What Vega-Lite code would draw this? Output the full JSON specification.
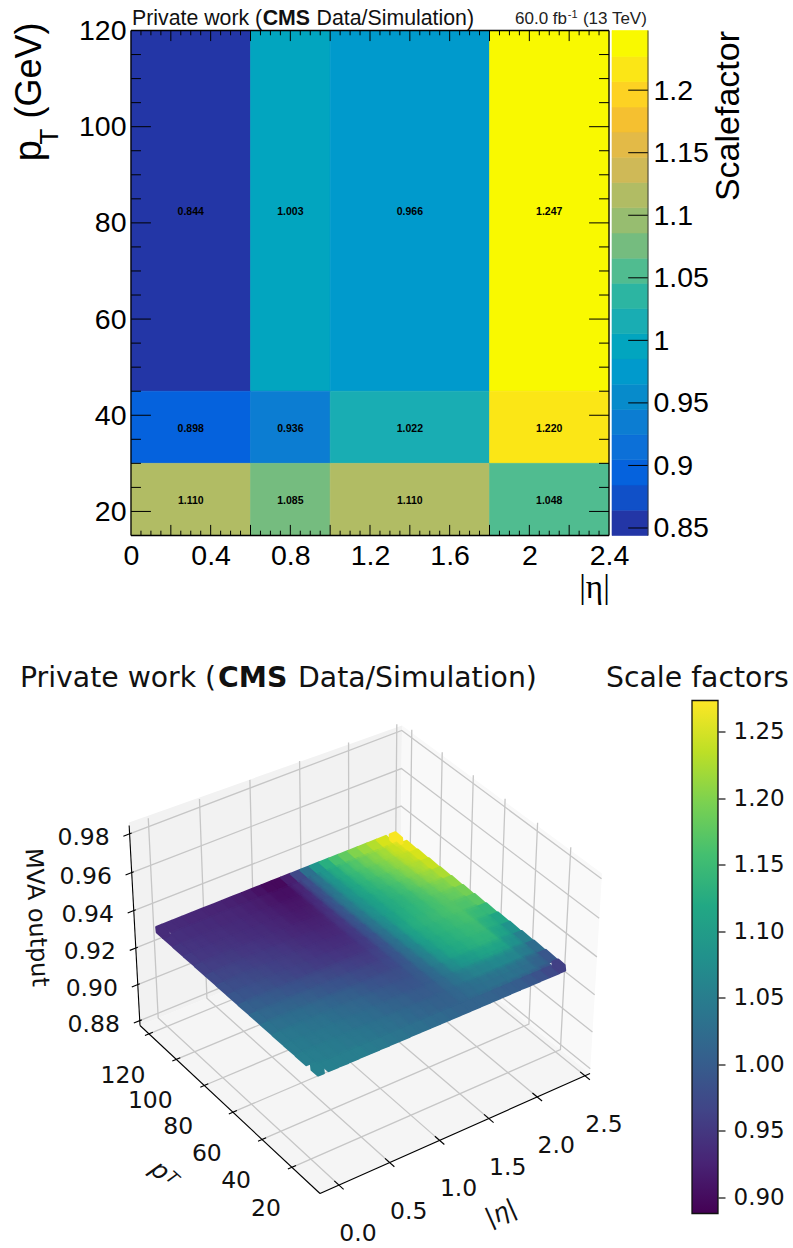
{"$schema":"https://vega.github.io/schema/vega-lite/v6.json","background":"white","padding":{"left":10,"top":7.5,"right":0,"bottom":0},"bounds":"flush","spacing":670,
"config":{"view":{"stroke":null},"axis":{"grid":false}},
"datasets":{
"cells":[{"eL":0,"eH":0.6,"pL":45,"pH":120,"eC":0.3,"pC":82.5,"sf":0.844},{"eL":0.6,"eH":1,"pL":45,"pH":120,"eC":0.8,"pC":82.5,"sf":1.003},{"eL":1,"eH":1.8,"pL":45,"pH":120,"eC":1.4,"pC":82.5,"sf":0.966},{"eL":1.8,"eH":2.4,"pL":45,"pH":120,"eC":2.1,"pC":82.5,"sf":1.247},{"eL":0,"eH":0.6,"pL":30,"pH":45,"eC":0.3,"pC":37.5,"sf":0.898},{"eL":0.6,"eH":1,"pL":30,"pH":45,"eC":0.8,"pC":37.5,"sf":0.936},{"eL":1,"eH":1.8,"pL":30,"pH":45,"eC":1.4,"pC":37.5,"sf":1.022},{"eL":1.8,"eH":2.4,"pL":30,"pH":45,"eC":2.1,"pC":37.5,"sf":1.22},{"eL":0,"eH":0.6,"pL":15,"pH":30,"eC":0.3,"pC":22.5,"sf":1.11},{"eL":0.6,"eH":1,"pL":15,"pH":30,"eC":0.8,"pC":22.5,"sf":1.085},{"eL":1,"eH":1.8,"pL":15,"pH":30,"eC":1.4,"pC":22.5,"sf":1.11},{"eL":1.8,"eH":2.4,"pL":15,"pH":30,"eC":2.1,"pC":22.5,"sf":1.048}],
"etaMinor":[{"t":0.05},{"t":0.1},{"t":0.15},{"t":0.25},{"t":0.3},{"t":0.35},{"t":0.45},{"t":0.5},{"t":0.55},{"t":0.65},{"t":0.7},{"t":0.75},{"t":0.85},{"t":0.9},{"t":0.95},{"t":1.05},{"t":1.1},{"t":1.15},{"t":1.25},{"t":1.3},{"t":1.35},{"t":1.45},{"t":1.5},{"t":1.55},{"t":1.65},{"t":1.7},{"t":1.75},{"t":1.85},{"t":1.9},{"t":1.95},{"t":2.05},{"t":2.1},{"t":2.15},{"t":2.25},{"t":2.3},{"t":2.35}],
"etaMajor":[{"t":0.2},{"t":0.4},{"t":0.6},{"t":0.8},{"t":1},{"t":1.2},{"t":1.4},{"t":1.6},{"t":1.8},{"t":2},{"t":2.2}],
"ptMinor":[{"t":25},{"t":30},{"t":35},{"t":45},{"t":50},{"t":55},{"t":65},{"t":70},{"t":75},{"t":85},{"t":90},{"t":95},{"t":105},{"t":110},{"t":115}],
"ptMajor":[{"t":20},{"t":40},{"t":60},{"t":80},{"t":100}],
"bins":[{"lo":0.844,"hi":0.8642,"m":0.854},{"lo":0.8642,"hi":0.8843,"m":0.874},{"lo":0.8843,"hi":0.9045,"m":0.894},{"lo":0.9045,"hi":0.9247,"m":0.915},{"lo":0.9247,"hi":0.9448,"m":0.935},{"lo":0.9448,"hi":0.965,"m":0.955},{"lo":0.965,"hi":0.9851,"m":0.975},{"lo":0.9851,"hi":1.0053,"m":0.995},{"lo":1.0053,"hi":1.0254,"m":1.015},{"lo":1.0254,"hi":1.0456,"m":1.035},{"lo":1.0456,"hi":1.0657,"m":1.055},{"lo":1.0657,"hi":1.0859,"m":1.075},{"lo":1.0859,"hi":1.106,"m":1.095},{"lo":1.106,"hi":1.1262,"m":1.115},{"lo":1.1262,"hi":1.1463,"m":1.135},{"lo":1.1463,"hi":1.1665,"m":1.155},{"lo":1.1665,"hi":1.1866,"m":1.175},{"lo":1.1866,"hi":1.2068,"m":1.195},{"lo":1.2068,"hi":1.2269,"m":1.215},{"lo":1.2269,"hi":1.2477,"m":1.235}],
"cbTicks":[{"t":0.85},{"t":0.9},{"t":0.95},{"t":1},{"t":1.05},{"t":1.1},{"t":1.15},{"t":1.2}],
"p3":[
{"k":"f","e":-0.185,"p":1.6,"z":0.8773},{"k":"lw","e":-0.185,"p":126.6,"z":0.8773},{"k":"rw","e":2.553,"p":1.6,"z":0.8773},
{"k":"g","g":"e0","o":0,"e":0,"p":1.6,"z":0.8773},{"k":"g","g":"e0","o":1,"e":0,"p":126.6,"z":0.8773},{"k":"g","g":"e0","o":2,"e":0,"p":126.6,"z":0.9842},
{"k":"g","g":"e1","o":0,"e":0.5,"p":1.6,"z":0.8773},{"k":"g","g":"e1","o":1,"e":0.5,"p":126.6,"z":0.8773},{"k":"g","g":"e1","o":2,"e":0.5,"p":126.6,"z":0.9842},
{"k":"g","g":"e2","o":0,"e":1,"p":1.6,"z":0.8773},{"k":"g","g":"e2","o":1,"e":1,"p":126.6,"z":0.8773},{"k":"g","g":"e2","o":2,"e":1,"p":126.6,"z":0.9842},
{"k":"g","g":"e3","o":0,"e":1.5,"p":1.6,"z":0.8773},{"k":"g","g":"e3","o":1,"e":1.5,"p":126.6,"z":0.8773},{"k":"g","g":"e3","o":2,"e":1.5,"p":126.6,"z":0.9842},
{"k":"g","g":"e4","o":0,"e":2,"p":1.6,"z":0.8773},{"k":"g","g":"e4","o":1,"e":2,"p":126.6,"z":0.8773},{"k":"g","g":"e4","o":2,"e":2,"p":126.6,"z":0.9842},
{"k":"g","g":"e5","o":0,"e":2.5,"p":1.6,"z":0.8773},{"k":"g","g":"e5","o":1,"e":2.5,"p":126.6,"z":0.8773},{"k":"g","g":"e5","o":2,"e":2.5,"p":126.6,"z":0.9842},
{"k":"g","g":"p0","o":0,"e":-0.185,"p":20,"z":0.8773},{"k":"g","g":"p0","o":1,"e":2.553,"p":20,"z":0.8773},{"k":"g","g":"p0","o":2,"e":2.553,"p":20,"z":0.9842},
{"k":"g","g":"p1","o":0,"e":-0.185,"p":40,"z":0.8773},{"k":"g","g":"p1","o":1,"e":2.553,"p":40,"z":0.8773},{"k":"g","g":"p1","o":2,"e":2.553,"p":40,"z":0.9842},
{"k":"g","g":"p2","o":0,"e":-0.185,"p":60,"z":0.8773},{"k":"g","g":"p2","o":1,"e":2.553,"p":60,"z":0.8773},{"k":"g","g":"p2","o":2,"e":2.553,"p":60,"z":0.9842},
{"k":"g","g":"p3","o":0,"e":-0.185,"p":80,"z":0.8773},{"k":"g","g":"p3","o":1,"e":2.553,"p":80,"z":0.8773},{"k":"g","g":"p3","o":2,"e":2.553,"p":80,"z":0.9842},
{"k":"g","g":"p4","o":0,"e":-0.185,"p":100,"z":0.8773},{"k":"g","g":"p4","o":1,"e":2.553,"p":100,"z":0.8773},{"k":"g","g":"p4","o":2,"e":2.553,"p":100,"z":0.9842},
{"k":"g","g":"p5","o":0,"e":-0.185,"p":120,"z":0.8773},{"k":"g","g":"p5","o":1,"e":2.553,"p":120,"z":0.8773},{"k":"g","g":"p5","o":2,"e":2.553,"p":120,"z":0.9842},
{"k":"g","g":"z0","o":0,"e":-0.185,"p":126.6,"z":0.88},{"k":"g","g":"z0","o":1,"e":2.553,"p":126.6,"z":0.88},{"k":"g","g":"z0","o":2,"e":2.553,"p":1.6,"z":0.88},
{"k":"g","g":"z1","o":0,"e":-0.185,"p":126.6,"z":0.9},{"k":"g","g":"z1","o":1,"e":2.553,"p":126.6,"z":0.9},{"k":"g","g":"z1","o":2,"e":2.553,"p":1.6,"z":0.9},
{"k":"g","g":"z2","o":0,"e":-0.185,"p":126.6,"z":0.92},{"k":"g","g":"z2","o":1,"e":2.553,"p":126.6,"z":0.92},{"k":"g","g":"z2","o":2,"e":2.553,"p":1.6,"z":0.92},
{"k":"g","g":"z3","o":0,"e":-0.185,"p":126.6,"z":0.94},{"k":"g","g":"z3","o":1,"e":2.553,"p":126.6,"z":0.94},{"k":"g","g":"z3","o":2,"e":2.553,"p":1.6,"z":0.94},
{"k":"g","g":"z4","o":0,"e":-0.185,"p":126.6,"z":0.96},{"k":"g","g":"z4","o":1,"e":2.553,"p":126.6,"z":0.96},{"k":"g","g":"z4","o":2,"e":2.553,"p":1.6,"z":0.96},
{"k":"g","g":"z5","o":0,"e":-0.185,"p":126.6,"z":0.98},{"k":"g","g":"z5","o":1,"e":2.553,"p":126.6,"z":0.98},{"k":"g","g":"z5","o":2,"e":2.553,"p":1.6,"z":0.98},
{"k":"a","g":"ae","o":0,"e":-0.185,"p":1.6,"z":0.8773},{"k":"a","g":"ae","o":1,"e":2.553,"p":1.6,"z":0.8773},
{"k":"a","g":"ap","o":0,"e":-0.185,"p":1.6,"z":0.8773},{"k":"a","g":"ap","o":1,"e":-0.185,"p":126.6,"z":0.8773},
{"k":"a","g":"az","o":0,"e":-0.185,"p":126.6,"z":0.8773},{"k":"a","g":"az","o":1,"e":-0.185,"p":126.6,"z":0.9842},
{"k":"a","g":"te0","o":0,"e":0,"p":-1.4,"z":0.8773},{"k":"a","g":"te0","o":1,"e":0,"p":4.6,"z":0.8773},
{"k":"a","g":"te1","o":0,"e":0.5,"p":-1.4,"z":0.8773},{"k":"a","g":"te1","o":1,"e":0.5,"p":4.6,"z":0.8773},
{"k":"a","g":"te2","o":0,"e":1,"p":-1.4,"z":0.8773},{"k":"a","g":"te2","o":1,"e":1,"p":4.6,"z":0.8773},
{"k":"a","g":"te3","o":0,"e":1.5,"p":-1.4,"z":0.8773},{"k":"a","g":"te3","o":1,"e":1.5,"p":4.6,"z":0.8773},
{"k":"a","g":"te4","o":0,"e":2,"p":-1.4,"z":0.8773},{"k":"a","g":"te4","o":1,"e":2,"p":4.6,"z":0.8773},
{"k":"a","g":"te5","o":0,"e":2.5,"p":-1.4,"z":0.8773},{"k":"a","g":"te5","o":1,"e":2.5,"p":4.6,"z":0.8773},
{"k":"a","g":"tp0","o":0,"e":-0.225,"p":20,"z":0.8773},{"k":"a","g":"tp0","o":1,"e":-0.145,"p":20,"z":0.8773},
{"k":"a","g":"tp1","o":0,"e":-0.225,"p":40,"z":0.8773},{"k":"a","g":"tp1","o":1,"e":-0.145,"p":40,"z":0.8773},
{"k":"a","g":"tp2","o":0,"e":-0.225,"p":60,"z":0.8773},{"k":"a","g":"tp2","o":1,"e":-0.145,"p":60,"z":0.8773},
{"k":"a","g":"tp3","o":0,"e":-0.225,"p":80,"z":0.8773},{"k":"a","g":"tp3","o":1,"e":-0.145,"p":80,"z":0.8773},
{"k":"a","g":"tp4","o":0,"e":-0.225,"p":100,"z":0.8773},{"k":"a","g":"tp4","o":1,"e":-0.145,"p":100,"z":0.8773},
{"k":"a","g":"tp5","o":0,"e":-0.225,"p":120,"z":0.8773},{"k":"a","g":"tp5","o":1,"e":-0.145,"p":120,"z":0.8773},
{"k":"a","g":"tz0","o":0,"e":-0.245,"p":126.6,"z":0.88},{"k":"a","g":"tz0","o":1,"e":-0.165,"p":126.6,"z":0.88},
{"k":"a","g":"tz1","o":0,"e":-0.245,"p":126.6,"z":0.9},{"k":"a","g":"tz1","o":1,"e":-0.165,"p":126.6,"z":0.9},
{"k":"a","g":"tz2","o":0,"e":-0.245,"p":126.6,"z":0.92},{"k":"a","g":"tz2","o":1,"e":-0.165,"p":126.6,"z":0.92},
{"k":"a","g":"tz3","o":0,"e":-0.245,"p":126.6,"z":0.94},{"k":"a","g":"tz3","o":1,"e":-0.165,"p":126.6,"z":0.94},
{"k":"a","g":"tz4","o":0,"e":-0.245,"p":126.6,"z":0.96},{"k":"a","g":"tz4","o":1,"e":-0.165,"p":126.6,"z":0.96},
{"k":"a","g":"tz5","o":0,"e":-0.245,"p":126.6,"z":0.98},{"k":"a","g":"tz5","o":1,"e":-0.165,"p":126.6,"z":0.98},
{"k":"lz","e":-0.185,"p":126.6,"z":0.88,"t":"0.88"},{"k":"lz","e":-0.185,"p":126.6,"z":0.9,"t":"0.90"},{"k":"lz","e":-0.185,"p":126.6,"z":0.92,"t":"0.92"},{"k":"lz","e":-0.185,"p":126.6,"z":0.94,"t":"0.94"},{"k":"lz","e":-0.185,"p":126.6,"z":0.96,"t":"0.96"},{"k":"lz","e":-0.185,"p":126.6,"z":0.98,"t":"0.98"},
{"k":"lp","e":-0.185,"p":20,"z":0.8773,"t":"20"},{"k":"lp","e":-0.185,"p":40,"z":0.8773,"t":"40"},{"k":"lp","e":-0.185,"p":60,"z":0.8773,"t":"60"},{"k":"lp","e":-0.185,"p":80,"z":0.8773,"t":"80"},{"k":"lp","e":-0.185,"p":100,"z":0.8773,"t":"100"},{"k":"lp","e":-0.185,"p":120,"z":0.8773,"t":"120"},
{"k":"le","e":0,"p":1.6,"z":0.8773,"t":"0.0"},{"k":"le","e":0.5,"p":1.6,"z":0.8773,"t":"0.5"},{"k":"le","e":1,"p":1.6,"z":0.8773,"t":"1.0"},{"k":"le","e":1.5,"p":1.6,"z":0.8773,"t":"1.5"},{"k":"le","e":2,"p":1.6,"z":0.8773,"t":"2.0"},{"k":"le","e":2.5,"p":1.6,"z":0.8773,"t":"2.5"},
{"e":0,"p":120,"s":0.935},{"e":0.1,"p":120,"s":0.934},{"e":0.2,"p":120,"s":0.933},{"e":0.3,"p":120,"s":0.931},{"e":0.4,"p":120,"s":0.929},{"e":0.5,"p":120,"s":0.927},{"e":0.6,"p":120,"s":0.925},{"e":0.7,"p":120,"s":0.922},{"e":0.8,"p":120,"s":0.918},{"e":0.9,"p":120,"s":0.913},{"e":1,"p":120,"s":0.905},{"e":1.1,"p":120,"s":0.897},{"e":1.2,"p":120,"s":0.896},{"e":1.3,"p":120,"s":0.92},{"e":1.4,"p":120,"s":0.97},{"e":1.5,"p":120,"s":1.03},{"e":1.6,"p":120,"s":1.09},{"e":1.7,"p":120,"s":1.13},{"e":1.8,"p":120,"s":1.16},{"e":1.9,"p":120,"s":1.18},{"e":2,"p":120,"s":1.2},{"e":2.1,"p":120,"s":1.215},{"e":2.2,"p":120,"s":1.23},{"e":2.3,"p":120,"s":1.25},{"e":2.4,"p":120,"s":1.27},
{"e":0,"p":112.5,"s":0.941},{"e":0.1,"p":112.5,"s":0.939},{"e":0.2,"p":112.5,"s":0.938},{"e":0.3,"p":112.5,"s":0.936},{"e":0.4,"p":112.5,"s":0.934},{"e":0.5,"p":112.5,"s":0.932},{"e":0.6,"p":112.5,"s":0.929},{"e":0.7,"p":112.5,"s":0.926},{"e":0.8,"p":112.5,"s":0.922},{"e":0.9,"p":112.5,"s":0.917},{"e":1,"p":112.5,"s":0.91},{"e":1.1,"p":112.5,"s":0.903},{"e":1.2,"p":112.5,"s":0.903},{"e":1.3,"p":112.5,"s":0.927},{"e":1.4,"p":112.5,"s":0.976},{"e":1.5,"p":112.5,"s":1.034},{"e":1.6,"p":112.5,"s":1.089},{"e":1.7,"p":112.5,"s":1.124},{"e":1.8,"p":112.5,"s":1.151},{"e":1.9,"p":112.5,"s":1.17},{"e":2,"p":112.5,"s":1.189},{"e":2.1,"p":112.5,"s":1.205},{"e":2.2,"p":112.5,"s":1.221},{"e":2.3,"p":112.5,"s":1.241},{"e":2.4,"p":112.5,"s":1.26},
{"e":0,"p":105,"s":0.946},{"e":0.1,"p":105,"s":0.945},{"e":0.2,"p":105,"s":0.943},{"e":0.3,"p":105,"s":0.941},{"e":0.4,"p":105,"s":0.939},{"e":0.5,"p":105,"s":0.936},{"e":0.6,"p":105,"s":0.934},{"e":0.7,"p":105,"s":0.931},{"e":0.8,"p":105,"s":0.927},{"e":0.9,"p":105,"s":0.922},{"e":1,"p":105,"s":0.915},{"e":1.1,"p":105,"s":0.91},{"e":1.2,"p":105,"s":0.91},{"e":1.3,"p":105,"s":0.934},{"e":1.4,"p":105,"s":0.981},{"e":1.5,"p":105,"s":1.039},{"e":1.6,"p":105,"s":1.087},{"e":1.7,"p":105,"s":1.119},{"e":1.8,"p":105,"s":1.143},{"e":1.9,"p":105,"s":1.16},{"e":2,"p":105,"s":1.177},{"e":2.1,"p":105,"s":1.195},{"e":2.2,"p":105,"s":1.213},{"e":2.3,"p":105,"s":1.233},{"e":2.4,"p":105,"s":1.25},
{"e":0,"p":97.5,"s":0.952},{"e":0.1,"p":97.5,"s":0.95},{"e":0.2,"p":97.5,"s":0.948},{"e":0.3,"p":97.5,"s":0.946},{"e":0.4,"p":97.5,"s":0.944},{"e":0.5,"p":97.5,"s":0.941},{"e":0.6,"p":97.5,"s":0.938},{"e":0.7,"p":97.5,"s":0.935},{"e":0.8,"p":97.5,"s":0.931},{"e":0.9,"p":97.5,"s":0.926},{"e":1,"p":97.5,"s":0.92},{"e":1.1,"p":97.5,"s":0.916},{"e":1.2,"p":97.5,"s":0.917},{"e":1.3,"p":97.5,"s":0.941},{"e":1.4,"p":97.5,"s":0.987},{"e":1.5,"p":97.5,"s":1.043},{"e":1.6,"p":97.5,"s":1.086},{"e":1.7,"p":97.5,"s":1.113},{"e":1.8,"p":97.5,"s":1.134},{"e":1.9,"p":97.5,"s":1.15},{"e":2,"p":97.5,"s":1.166},{"e":2.1,"p":97.5,"s":1.185},{"e":2.2,"p":97.5,"s":1.204},{"e":2.3,"p":97.5,"s":1.224},{"e":2.4,"p":97.5,"s":1.24},
{"e":0,"p":90,"s":0.96},{"e":0.1,"p":90,"s":0.958},{"e":0.2,"p":90,"s":0.956},{"e":0.3,"p":90,"s":0.953},{"e":0.4,"p":90,"s":0.95},{"e":0.5,"p":90,"s":0.947},{"e":0.6,"p":90,"s":0.944},{"e":0.7,"p":90,"s":0.94},{"e":0.8,"p":90,"s":0.936},{"e":0.9,"p":90,"s":0.931},{"e":1,"p":90,"s":0.927},{"e":1.1,"p":90,"s":0.923},{"e":1.2,"p":90,"s":0.924},{"e":1.3,"p":90,"s":0.946},{"e":1.4,"p":90,"s":0.989},{"e":1.5,"p":90,"s":1.043},{"e":1.6,"p":90,"s":1.083},{"e":1.7,"p":90,"s":1.108},{"e":1.8,"p":90,"s":1.128},{"e":1.9,"p":90,"s":1.142},{"e":2,"p":90,"s":1.156},{"e":2.1,"p":90,"s":1.175},{"e":2.2,"p":90,"s":1.194},{"e":2.3,"p":90,"s":1.212},{"e":2.4,"p":90,"s":1.226},
{"e":0,"p":82.5,"s":0.97},{"e":0.1,"p":82.5,"s":0.968},{"e":0.2,"p":82.5,"s":0.966},{"e":0.3,"p":82.5,"s":0.962},{"e":0.4,"p":82.5,"s":0.958},{"e":0.5,"p":82.5,"s":0.955},{"e":0.6,"p":82.5,"s":0.951},{"e":0.7,"p":82.5,"s":0.947},{"e":0.8,"p":82.5,"s":0.942},{"e":0.9,"p":82.5,"s":0.938},{"e":1,"p":82.5,"s":0.934},{"e":1.1,"p":82.5,"s":0.93},{"e":1.2,"p":82.5,"s":0.931},{"e":1.3,"p":82.5,"s":0.949},{"e":1.4,"p":82.5,"s":0.988},{"e":1.5,"p":82.5,"s":1.039},{"e":1.6,"p":82.5,"s":1.079},{"e":1.7,"p":82.5,"s":1.104},{"e":1.8,"p":82.5,"s":1.124},{"e":1.9,"p":82.5,"s":1.136},{"e":2,"p":82.5,"s":1.149},{"e":2.1,"p":82.5,"s":1.165},{"e":2.2,"p":82.5,"s":1.181},{"e":2.3,"p":82.5,"s":1.196},{"e":2.4,"p":82.5,"s":1.209},
{"e":0,"p":75,"s":0.98},{"e":0.1,"p":75,"s":0.977},{"e":0.2,"p":75,"s":0.975},{"e":0.3,"p":75,"s":0.971},{"e":0.4,"p":75,"s":0.967},{"e":0.5,"p":75,"s":0.962},{"e":0.6,"p":75,"s":0.958},{"e":0.7,"p":75,"s":0.953},{"e":0.8,"p":75,"s":0.949},{"e":0.9,"p":75,"s":0.944},{"e":1,"p":75,"s":0.941},{"e":1.1,"p":75,"s":0.938},{"e":1.2,"p":75,"s":0.938},{"e":1.3,"p":75,"s":0.952},{"e":1.4,"p":75,"s":0.986},{"e":1.5,"p":75,"s":1.034},{"e":1.6,"p":75,"s":1.074},{"e":1.7,"p":75,"s":1.105},{"e":1.8,"p":75,"s":1.125},{"e":1.9,"p":75,"s":1.137},{"e":2,"p":75,"s":1.148},{"e":2.1,"p":75,"s":1.16},{"e":2.2,"p":75,"s":1.173},{"e":2.3,"p":75,"s":1.181},{"e":2.4,"p":75,"s":1.192},
{"e":0,"p":67.5,"s":0.99},{"e":0.1,"p":67.5,"s":0.987},{"e":0.2,"p":67.5,"s":0.985},{"e":0.3,"p":67.5,"s":0.98},{"e":0.4,"p":67.5,"s":0.975},{"e":0.5,"p":67.5,"s":0.97},{"e":0.6,"p":67.5,"s":0.965},{"e":0.7,"p":67.5,"s":0.96},{"e":0.8,"p":67.5,"s":0.955},{"e":0.9,"p":67.5,"s":0.951},{"e":1,"p":67.5,"s":0.948},{"e":1.1,"p":67.5,"s":0.945},{"e":1.2,"p":67.5,"s":0.945},{"e":1.3,"p":67.5,"s":0.955},{"e":1.4,"p":67.5,"s":0.985},{"e":1.5,"p":67.5,"s":1.03},{"e":1.6,"p":67.5,"s":1.07},{"e":1.7,"p":67.5,"s":1.11},{"e":1.8,"p":67.5,"s":1.13},{"e":1.9,"p":67.5,"s":1.14},{"e":2,"p":67.5,"s":1.15},{"e":2.1,"p":67.5,"s":1.16},{"e":2.2,"p":67.5,"s":1.168},{"e":2.3,"p":67.5,"s":1.165},{"e":2.4,"p":67.5,"s":1.175},
{"e":0,"p":60,"s":1.004},{"e":0.1,"p":60,"s":1.002},{"e":0.2,"p":60,"s":0.999},{"e":0.3,"p":60,"s":0.995},{"e":0.4,"p":60,"s":0.991},{"e":0.5,"p":60,"s":0.986},{"e":0.6,"p":60,"s":0.981},{"e":0.7,"p":60,"s":0.976},{"e":0.8,"p":60,"s":0.971},{"e":0.9,"p":60,"s":0.966},{"e":1,"p":60,"s":0.961},{"e":1.1,"p":60,"s":0.958},{"e":1.2,"p":60,"s":0.956},{"e":1.3,"p":60,"s":0.964},{"e":1.4,"p":60,"s":0.988},{"e":1.5,"p":60,"s":1.027},{"e":1.6,"p":60,"s":1.064},{"e":1.7,"p":60,"s":1.104},{"e":1.8,"p":60,"s":1.124},{"e":1.9,"p":60,"s":1.134},{"e":2,"p":60,"s":1.144},{"e":2.1,"p":60,"s":1.153},{"e":2.2,"p":60,"s":1.16},{"e":2.3,"p":60,"s":1.146},{"e":2.4,"p":60,"s":1.145},
{"e":0,"p":52.5,"s":1.019},{"e":0.1,"p":52.5,"s":1.016},{"e":0.2,"p":52.5,"s":1.014},{"e":0.3,"p":52.5,"s":1.01},{"e":0.4,"p":52.5,"s":1.006},{"e":0.5,"p":52.5,"s":1.001},{"e":0.6,"p":52.5,"s":0.996},{"e":0.7,"p":52.5,"s":0.991},{"e":0.8,"p":52.5,"s":0.986},{"e":0.9,"p":52.5,"s":0.981},{"e":1,"p":52.5,"s":0.975},{"e":1.1,"p":52.5,"s":0.971},{"e":1.2,"p":52.5,"s":0.968},{"e":1.3,"p":52.5,"s":0.972},{"e":1.4,"p":52.5,"s":0.991},{"e":1.5,"p":52.5,"s":1.024},{"e":1.6,"p":52.5,"s":1.059},{"e":1.7,"p":52.5,"s":1.099},{"e":1.8,"p":52.5,"s":1.119},{"e":1.9,"p":52.5,"s":1.129},{"e":2,"p":52.5,"s":1.139},{"e":2.1,"p":52.5,"s":1.146},{"e":2.2,"p":52.5,"s":1.15},{"e":2.3,"p":52.5,"s":1.128},{"e":2.4,"p":52.5,"s":1.115},
{"e":0,"p":45,"s":1.033},{"e":0.1,"p":45,"s":1.031},{"e":0.2,"p":45,"s":1.028},{"e":0.3,"p":45,"s":1.025},{"e":0.4,"p":45,"s":1.022},{"e":0.5,"p":45,"s":1.017},{"e":0.6,"p":45,"s":1.012},{"e":0.7,"p":45,"s":1.007},{"e":0.8,"p":45,"s":1.002},{"e":0.9,"p":45,"s":0.996},{"e":1,"p":45,"s":0.988},{"e":1.1,"p":45,"s":0.984},{"e":1.2,"p":45,"s":0.979},{"e":1.3,"p":45,"s":0.981},{"e":1.4,"p":45,"s":0.994},{"e":1.5,"p":45,"s":1.021},{"e":1.6,"p":45,"s":1.053},{"e":1.7,"p":45,"s":1.09},{"e":1.8,"p":45,"s":1.112},{"e":1.9,"p":45,"s":1.122},{"e":2,"p":45,"s":1.132},{"e":2.1,"p":45,"s":1.138},{"e":2.2,"p":45,"s":1.138},{"e":2.3,"p":45,"s":1.109},{"e":2.4,"p":45,"s":1.085},
{"e":0,"p":37.5,"s":1.042},{"e":0.1,"p":37.5,"s":1.04},{"e":0.2,"p":37.5,"s":1.037},{"e":0.3,"p":37.5,"s":1.035},{"e":0.4,"p":37.5,"s":1.033},{"e":0.5,"p":37.5,"s":1.028},{"e":0.6,"p":37.5,"s":1.023},{"e":0.7,"p":37.5,"s":1.018},{"e":0.8,"p":37.5,"s":1.014},{"e":0.9,"p":37.5,"s":1.007},{"e":1,"p":37.5,"s":1},{"e":1.1,"p":37.5,"s":0.995},{"e":1.2,"p":37.5,"s":0.99},{"e":1.3,"p":37.5,"s":0.989},{"e":1.4,"p":37.5,"s":0.997},{"e":1.5,"p":37.5,"s":1.019},{"e":1.6,"p":37.5,"s":1.044},{"e":1.7,"p":37.5,"s":1.075},{"e":1.8,"p":37.5,"s":1.092},{"e":1.9,"p":37.5,"s":1.1},{"e":2,"p":37.5,"s":1.11},{"e":2.1,"p":37.5,"s":1.113},{"e":2.2,"p":37.5,"s":1.11},{"e":2.3,"p":37.5,"s":1.082},{"e":2.4,"p":37.5,"s":1.054},
{"e":0,"p":30,"s":1.046},{"e":0.1,"p":30,"s":1.045},{"e":0.2,"p":30,"s":1.042},{"e":0.3,"p":30,"s":1.041},{"e":0.4,"p":30,"s":1.039},{"e":0.5,"p":30,"s":1.034},{"e":0.6,"p":30,"s":1.03},{"e":0.7,"p":30,"s":1.025},{"e":0.8,"p":30,"s":1.021},{"e":0.9,"p":30,"s":1.015},{"e":1,"p":30,"s":1.01},{"e":1.1,"p":30,"s":1.005},{"e":1.2,"p":30,"s":1},{"e":1.3,"p":30,"s":0.998},{"e":1.4,"p":30,"s":1.001},{"e":1.5,"p":30,"s":1.016},{"e":1.6,"p":30,"s":1.033},{"e":1.7,"p":30,"s":1.047},{"e":1.8,"p":30,"s":1.056},{"e":1.9,"p":30,"s":1.061},{"e":2,"p":30,"s":1.066},{"e":2.1,"p":30,"s":1.066},{"e":2.2,"p":30,"s":1.062},{"e":2.3,"p":30,"s":1.046},{"e":2.4,"p":30,"s":1.023},
{"e":0,"p":22.5,"s":1.051},{"e":0.1,"p":22.5,"s":1.05},{"e":0.2,"p":22.5,"s":1.048},{"e":0.3,"p":22.5,"s":1.046},{"e":0.4,"p":22.5,"s":1.044},{"e":0.5,"p":22.5,"s":1.04},{"e":0.6,"p":22.5,"s":1.037},{"e":0.7,"p":22.5,"s":1.033},{"e":0.8,"p":22.5,"s":1.029},{"e":0.9,"p":22.5,"s":1.024},{"e":1,"p":22.5,"s":1.019},{"e":1.1,"p":22.5,"s":1.014},{"e":1.2,"p":22.5,"s":1.01},{"e":1.3,"p":22.5,"s":1.007},{"e":1.4,"p":22.5,"s":1.006},{"e":1.5,"p":22.5,"s":1.013},{"e":1.6,"p":22.5,"s":1.022},{"e":1.7,"p":22.5,"s":1.027},{"e":1.8,"p":22.5,"s":1.031},{"e":1.9,"p":22.5,"s":1.031},{"e":2,"p":22.5,"s":1.033},{"e":2.1,"p":22.5,"s":1.03},{"e":2.2,"p":22.5,"s":1.024},{"e":2.3,"p":22.5,"s":1.009},{"e":2.4,"p":22.5,"s":0.992},
{"e":0,"p":15,"s":1.055},{"e":0.1,"p":15,"s":1.054},{"e":0.2,"p":15,"s":1.052},{"e":0.3,"p":15,"s":1.051},{"e":0.4,"p":15,"s":1.05},{"e":0.5,"p":15,"s":1.046},{"e":0.6,"p":15,"s":1.043},{"e":0.7,"p":15,"s":1.039},{"e":0.8,"p":15,"s":1.035},{"e":0.9,"p":15,"s":1.031},{"e":1,"p":15,"s":1.027},{"e":1.1,"p":15,"s":1.023},{"e":1.2,"p":15,"s":1.02},{"e":1.3,"p":15,"s":1.015},{"e":1.4,"p":15,"s":1.01},{"e":1.5,"p":15,"s":1.01},{"e":1.6,"p":15,"s":1.01},{"e":1.7,"p":15,"s":1.008},{"e":1.8,"p":15,"s":1.005},{"e":1.9,"p":15,"s":1.002},{"e":2,"p":15,"s":1},{"e":2.1,"p":15,"s":0.993},{"e":2.2,"p":15,"s":0.985},{"e":2.3,"p":15,"s":0.973},{"e":2.4,"p":15,"s":0.96}
]},
"vconcat":[
{"bounds":"flush","spacing":3,"hconcat":[
{"width":478,"height":505,"layer":[
{"data":{"name":"cells"},"mark":{"type":"rect","strokeWidth":0.6},"encoding":{
"x":{"field":"eL","type":"quantitative","scale":{"domain":[0,2.4],"nice":false,"zero":false},"axis":{"values":[0,0.4,0.8,1.2,1.6,2,2.4],"format":"~g","title":"|η|","titleFont":"Liberation Serif","titleFontWeight":"normal","titleFontSize":33,"titleX":463,"titleY":62,"titleAlign":"center","titleBaseline":"alphabetic","labelFont":"Liberation Sans","labelFontSize":28.5,"labelColor":"black","labelPadding":6,"tickSize":0,"domain":false,"labelOverlap":false,"labelFlush":false}},
"x2":{"field":"eH"},
"y":{"field":"pL","type":"quantitative","scale":{"domain":[15,120],"nice":false,"zero":false},"axis":{"values":[20,40,60,80,100,120],"title":null,"labelFont":"Liberation Sans","labelFontSize":28.5,"labelColor":"black","labelPadding":5,"tickSize":0,"domain":false,"labelOverlap":false}},
"y2":{"field":"pH"},
"fill":{"field":"sf","type":"quantitative","legend":null,"scale":{"type":"threshold","domain":[0.8642,0.8843,0.9045,0.9247,0.9448,0.965,0.9851,1.0053,1.0254,1.0456,1.0657,1.0859,1.106,1.1262,1.1463,1.1665,1.1866,1.2068,1.2269],"range":["#2336a6","#1050c8","#0562dd","#0c70d8","#0c7dd2","#078bcb","#009acc","#02a5bf","#19adb3","#2cb5a2","#50bc90","#75bc7f","#97bd70","#b1bc64","#cfb957","#e3ba47","#f5c030","#fdd223","#fbe616","#f9f900"]}},
"stroke":{"field":"sf","type":"quantitative","legend":null,"scale":{"type":"threshold","domain":[0.8642,0.8843,0.9045,0.9247,0.9448,0.965,0.9851,1.0053,1.0254,1.0456,1.0657,1.0859,1.106,1.1262,1.1463,1.1665,1.1866,1.2068,1.2269],"range":["#2336a6","#1050c8","#0562dd","#0c70d8","#0c7dd2","#078bcb","#009acc","#02a5bf","#19adb3","#2cb5a2","#50bc90","#75bc7f","#97bd70","#b1bc64","#cfb957","#e3ba47","#f5c030","#fdd223","#fbe616","#f9f900"]}}}},
{"data":{"name":"cells"},"mark":{"type":"text","font":"Liberation Sans","fontWeight":"bold","fontSize":10.5,"color":"black","dy":1.5},"encoding":{"x":{"field":"eC","type":"quantitative"},"y":{"field":"pC","type":"quantitative"},"text":{"field":"sf","type":"quantitative","format":".3f"}}},
{"data":{"name":"etaMinor"},"mark":{"type":"rule","color":"black","strokeWidth":1},"encoding":{"x":{"field":"t","type":"quantitative"},"y":{"datum":15},"y2":{"datum":16}}},
{"data":{"name":"etaMinor"},"mark":{"type":"rule","color":"black","strokeWidth":1},"encoding":{"x":{"field":"t","type":"quantitative"},"y":{"datum":120},"y2":{"datum":119}}},
{"data":{"name":"etaMajor"},"mark":{"type":"rule","color":"black","strokeWidth":1},"encoding":{"x":{"field":"t","type":"quantitative"},"y":{"datum":15},"y2":{"datum":17.2}}},
{"data":{"name":"etaMajor"},"mark":{"type":"rule","color":"black","strokeWidth":1},"encoding":{"x":{"field":"t","type":"quantitative"},"y":{"datum":120},"y2":{"datum":117.8}}},
{"data":{"name":"ptMinor"},"mark":{"type":"rule","color":"black","strokeWidth":1},"encoding":{"y":{"field":"t","type":"quantitative"},"x":{"datum":0},"x2":{"datum":0.05}}},
{"data":{"name":"ptMinor"},"mark":{"type":"rule","color":"black","strokeWidth":1},"encoding":{"y":{"field":"t","type":"quantitative"},"x":{"datum":2.4},"x2":{"datum":2.35}}},
{"data":{"name":"ptMajor"},"mark":{"type":"rule","color":"black","strokeWidth":1},"encoding":{"y":{"field":"t","type":"quantitative"},"x":{"datum":0},"x2":{"datum":0.1}}},
{"data":{"name":"ptMajor"},"mark":{"type":"rule","color":"black","strokeWidth":1},"encoding":{"y":{"field":"t","type":"quantitative"},"x":{"datum":2.4},"x2":{"datum":2.3}}},
{"data":{"values":[{"v":0},{"v":2.4}]},"mark":{"type":"rule","color":"black","strokeWidth":1.3},"encoding":{"x":{"field":"v","type":"quantitative"}}},
{"data":{"values":[{"v":15},{"v":120}]},"mark":{"type":"rule","color":"black","strokeWidth":1.3},"encoding":{"y":{"field":"v","type":"quantitative"}}},
{"data":{"values":[{"label":"Private work ("}]},"mark":{"type":"text","align":"left","baseline":"alphabetic","font":"Liberation Sans","fontSize":21.3,"color":"#111"},"encoding":{"x":{"datum":0.005},"y":{"datum":121.04},"text":{"field":"label"}}},
{"data":{"values":[{"label":"CMS"}]},"mark":{"type":"text","align":"left","baseline":"alphabetic","font":"Liberation Sans","fontWeight":"bold","fontSize":21.3,"color":"#111"},"encoding":{"x":{"datum":0.661},"y":{"datum":121.04},"text":{"field":"label"}}},
{"data":{"values":[{"label":"Data/Simulation)"}]},"mark":{"type":"text","align":"left","baseline":"alphabetic","font":"Liberation Sans","fontSize":21.3,"color":"#111"},"encoding":{"x":{"datum":0.932},"y":{"datum":121.04},"text":{"field":"label"}}},
{"data":{"values":[{"label":"60.0 fb"}]},"mark":{"type":"text","align":"left","baseline":"alphabetic","font":"Liberation Sans","fontSize":17,"color":"#222"},"encoding":{"x":{"datum":1.928},"y":{"datum":121.25},"text":{"field":"label"}}},
{"data":{"values":[{"label":"-1"}]},"mark":{"type":"text","align":"left","baseline":"alphabetic","font":"Liberation Sans","fontSize":11,"color":"#222"},"encoding":{"x":{"datum":2.193},"y":{"datum":122.7},"text":{"field":"label"}}},
{"data":{"values":[{"label":"(13 TeV)"}]},"mark":{"type":"text","align":"left","baseline":"alphabetic","font":"Liberation Sans","fontSize":17,"color":"#222"},"encoding":{"x":{"datum":2.269},"y":{"datum":121.25},"text":{"field":"label"}}},
{"data":{"values":[{"label":"p"}]},"mark":{"type":"text","align":"left","baseline":"alphabetic","angle":270,"font":"Liberation Sans","fontSize":38,"color":"black"},"encoding":{"x":{"datum":-0.452},"y":{"datum":92.8},"text":{"field":"label"}}},
{"data":{"values":[{"label":"T"}]},"mark":{"type":"text","align":"left","baseline":"alphabetic","angle":270,"font":"Liberation Sans","fontSize":26,"color":"black"},"encoding":{"x":{"datum":-0.3665},"y":{"datum":96.3},"text":{"field":"label"}}},
{"data":{"values":[{"label":"(GeV)"}]},"mark":{"type":"text","align":"left","baseline":"alphabetic","angle":270,"font":"Liberation Sans","fontSize":36,"color":"black"},"encoding":{"x":{"datum":-0.452},"y":{"datum":101.7},"text":{"field":"label"}}}
]},
{"width":36,"height":505,"layer":[
{"data":{"name":"bins"},"mark":{"type":"rect","strokeWidth":0.6},"encoding":{
"x":{"datum":0,"scale":{"domain":[0,1],"nice":false,"zero":false},"axis":null},"x2":{"datum":1},
"y":{"field":"lo","type":"quantitative","scale":{"domain":[0.844,1.2477],"nice":false,"zero":false},"axis":{"orient":"right","values":[0.85,0.9,0.95,1,1.05,1.1,1.15,1.2],"format":"~g","title":"Scalefactor","titleFont":"Liberation Sans","titleFontWeight":"normal","titleFontSize":34,"titleAngle":270,"titleX":90,"titleY":0,"titleAlign":"right","titleBaseline":"alphabetic","labelFont":"Liberation Sans","labelFontSize":28.5,"labelColor":"black","labelPadding":5,"tickSize":0,"domain":false,"labelOverlap":false}},
"y2":{"field":"hi"},
"fill":{"field":"m","type":"quantitative","legend":null,"scale":{"type":"threshold","domain":[0.8642,0.8843,0.9045,0.9247,0.9448,0.965,0.9851,1.0053,1.0254,1.0456,1.0657,1.0859,1.106,1.1262,1.1463,1.1665,1.1866,1.2068,1.2269],"range":["#2336a6","#1050c8","#0562dd","#0c70d8","#0c7dd2","#078bcb","#009acc","#02a5bf","#19adb3","#2cb5a2","#50bc90","#75bc7f","#97bd70","#b1bc64","#cfb957","#e3ba47","#f5c030","#fdd223","#fbe616","#f9f900"]}},
"stroke":{"field":"m","type":"quantitative","legend":null,"scale":{"type":"threshold","domain":[0.8642,0.8843,0.9045,0.9247,0.9448,0.965,0.9851,1.0053,1.0254,1.0456,1.0657,1.0859,1.106,1.1262,1.1463,1.1665,1.1866,1.2068,1.2269],"range":["#2336a6","#1050c8","#0562dd","#0c70d8","#0c7dd2","#078bcb","#009acc","#02a5bf","#19adb3","#2cb5a2","#50bc90","#75bc7f","#97bd70","#b1bc64","#cfb957","#e3ba47","#f5c030","#fdd223","#fbe616","#f9f900"]}}}},
{"data":{"name":"cbTicks"},"mark":{"type":"rule","color":"black","strokeWidth":1},"encoding":{"y":{"field":"t","type":"quantitative"},"x":{"datum":0.45,"axis":null},"x2":{"datum":1}}},
{"data":{"values":[{"v":1}]},"mark":{"type":"rule","color":"#333333","opacity":0.7,"strokeWidth":1.3},"encoding":{"x":{"field":"v","type":"quantitative","axis":null}}}
]}
]},
{"bounds":"flush","spacing":21,"hconcat":[
{"width":540,"height":513,"layer":[
{"data":{"name":"p3"},"transform":[
{"calculate":"(datum.e+0.185)/2.738","as":"a"},{"calculate":"(datum.p-1.6)/125","as":"b"},{"calculate":"((isValid(datum.z)?datum.z:0.9294)-0.8773)/0.1069","as":"c"},{"calculate":"1+0.042*datum.a+0.07*datum.b-0.051*datum.c","as":"w"},{"calculate":"(320+294.8*datum.a-170.2*datum.b-18.2*datum.c)/datum.w","as":"X"},{"calculate":"(1193-74.9*datum.a-96.25*datum.b-256*datum.c)/datum.w","as":"Y"}],
"encoding":{"x":{"field":"X","type":"quantitative","scale":{"domain":[131,671],"nice":false,"zero":false},"axis":null},"y":{"field":"Y","type":"quantitative","scale":{"domain":[1213,700],"nice":false,"zero":false},"axis":null}},
"layer":[
{"transform":[{"filter":"datum.k==='f'"}],"mark":{"type":"point","filled":true,"opacity":1,"size":400,"color":"#f5f5f5","shape":"M0,0L27,-12L8,-27.4L-18,-16.8Z"}},
{"transform":[{"filter":"datum.k==='lw'"}],"mark":{"type":"point","filled":true,"opacity":1,"size":400,"color":"#f2f2f2","shape":"M0,0L-1.1,-20.3L26.2,-30L26,-10.6Z"}},
{"transform":[{"filter":"datum.k==='rw'"}],"mark":{"type":"point","filled":true,"opacity":1,"size":400,"color":"#f9f9f9","shape":"M0,0L1.2,-20L-18.8,-34.8L-19,-15.4Z"}},
{"transform":[{"filter":"datum.k==='g'"}],"mark":{"type":"line","color":"#c6c6c6","strokeWidth":1.3},"encoding":{"detail":{"field":"g"},"order":{"field":"o","type":"quantitative"}}},
{"transform":[{"filter":"datum.k==='a'"}],"mark":{"type":"line","color":"black","strokeWidth":1.1},"encoding":{"detail":{"field":"g"},"order":{"field":"o","type":"quantitative"}}},
{"transform":[{"filter":"datum.k==null && !((datum.e==0||datum.e==2.4)&&(datum.p==15||datum.p==120))"}],"mark":{"type":"point","filled":true,"opacity":1,"size":400,"strokeWidth":2.5,"strokeJoin":"round","shape":"M-0.07,-0.645L0.99,0.275L0.07,0.645L-0.99,-0.275Z"},"encoding":{"fill":{"field":"s","type":"quantitative","legend":null,"scale":{"scheme":"viridis","domain":[0.888,1.2733]}},"stroke":{"field":"s","type":"quantitative","legend":null,"scale":{"scheme":"viridis","domain":[0.888,1.2733]}}}},
{"transform":[{"filter":"datum.k==null && (datum.e==0||datum.e==2.4)&&(datum.p==15||datum.p==120)"}],"mark":{"type":"point","filled":true,"opacity":1,"size":400,"strokeWidth":2.5,"strokeJoin":"round","shape":"M-0.07,-0.645L0.566,-0.093L0.622,0.423L0.07,0.645L-0.566,0.093L-0.622,-0.423Z"},"encoding":{"fill":{"field":"s","type":"quantitative","legend":null},"stroke":{"field":"s","type":"quantitative","legend":null}}},
{"transform":[{"filter":"datum.k==null && datum.e>0.1 && datum.e<2.3 && datum.p>22.5 && datum.p<112.5"}],"mark":{"type":"point","filled":true,"opacity":0.4,"size":1600,"strokeWidth":0,"shape":"M-0.07,-0.645L0.99,0.275L0.07,0.645L-0.99,-0.275Z"},"encoding":{"fill":{"field":"s","type":"quantitative","legend":null}}},
{"transform":[{"filter":"datum.k==null && datum.e>0 && datum.e<2.4 && datum.p>15 && datum.p<120"}],"mark":{"type":"point","filled":true,"opacity":0.5,"size":900,"strokeWidth":0,"shape":"M-0.07,-0.645L0.99,0.275L0.07,0.645L-0.99,-0.275Z"},"encoding":{"fill":{"field":"s","type":"quantitative","legend":null},"order":[{"field":"p","type":"quantitative","sort":"ascending"},{"field":"e","type":"quantitative","sort":"descending"}]}},
{"transform":[{"filter":"datum.k==null && datum.e>0 && datum.e<2.4 && datum.p>15 && datum.p<120"}],"mark":{"type":"point","filled":true,"opacity":0.4,"size":600,"strokeWidth":0,"shape":"M-0.07,-0.645L0.99,0.275L0.07,0.645L-0.99,-0.275Z"},"encoding":{"fill":{"field":"s","type":"quantitative","legend":null}}},
{"transform":[{"filter":"datum.k==='lz'"}],"mark":{"type":"text","font":"DejaVu Sans","fontSize":23.5,"color":"#111","dx":-46,"dy":4},"encoding":{"text":{"field":"t"}}},
{"transform":[{"filter":"datum.k==='lp'"}],"mark":{"type":"text","font":"DejaVu Sans","fontSize":23.5,"color":"#111","dx":-26,"dy":42},"encoding":{"text":{"field":"t"}}},
{"transform":[{"filter":"datum.k==='le'"}],"mark":{"type":"text","font":"DejaVu Sans","fontSize":23.5,"color":"#111","dx":19,"dy":49},"encoding":{"text":{"field":"t"}}}
]},
{"data":{"values":[{"label":"Private work ("}]},"mark":{"type":"text","align":"left","baseline":"alphabetic","font":"DejaVu Sans","fontSize":28.3,"color":"#111"},"encoding":{"x":{"datum":20},"y":{"datum":686},"text":{"field":"label"}}},
{"data":{"values":[{"label":"CMS"}]},"mark":{"type":"text","align":"left","baseline":"alphabetic","font":"DejaVu Sans","fontWeight":"bold","fontSize":28.3,"color":"#111"},"encoding":{"x":{"datum":218},"y":{"datum":686},"text":{"field":"label"}}},
{"data":{"values":[{"label":"Data/Simulation)"}]},"mark":{"type":"text","align":"left","baseline":"alphabetic","font":"DejaVu Sans","fontSize":28.3,"color":"#111"},"encoding":{"x":{"datum":298},"y":{"datum":686},"text":{"field":"label"}}},
{"data":{"values":[{"label":"Scale factors"}]},"mark":{"type":"text","align":"left","baseline":"alphabetic","font":"DejaVu Sans","fontSize":28.3,"color":"#111"},"encoding":{"x":{"datum":606},"y":{"datum":686},"text":{"field":"label"}}},
{"data":{"values":[{"label":"MVA output"}]},"mark":{"type":"text","angle":87,"font":"DejaVu Sans","fontSize":24,"color":"#111"},"encoding":{"x":{"datum":36},"y":{"datum":917},"text":{"field":"label"}}},
{"data":{"values":[{"label":"p"}]},"mark":{"type":"text","angle":43,"font":"DejaVu Sans","fontStyle":"italic","fontSize":25,"color":"#111"},"encoding":{"x":{"datum":160},"y":{"datum":1170},"text":{"field":"label"}}},
{"data":{"values":[{"label":"T"}]},"mark":{"type":"text","angle":43,"font":"DejaVu Sans","fontStyle":"italic","fontSize":17,"color":"#111"},"encoding":{"x":{"datum":172},"y":{"datum":1178},"text":{"field":"label"}}},
{"data":{"values":[{"label":"|η|"}]},"mark":{"type":"text","angle":336,"font":"DejaVu Sans","fontStyle":"italic","fontSize":24,"color":"#111"},"encoding":{"x":{"datum":501},"y":{"datum":1213},"text":{"field":"label"}}}
]},
{"width":26,"height":513,"data":{"values":[{"lo":0.888,"hi":1.2733}]},"mark":{"type":"rect","stroke":"#111","strokeWidth":1.3,"fill":{"gradient":"linear","x1":0,"y1":1,"x2":0,"y2":0,"stops":[{"offset":0,"color":"#440154"},{"offset":0.1,"color":"#482475"},{"offset":0.2,"color":"#414487"},{"offset":0.3,"color":"#355f8d"},{"offset":0.4,"color":"#2a788e"},{"offset":0.5,"color":"#21918c"},{"offset":0.6,"color":"#22a884"},{"offset":0.7,"color":"#44bf70"},{"offset":0.8,"color":"#7ad151"},{"offset":0.9,"color":"#bddf26"},{"offset":1,"color":"#fde725"}]}},"encoding":{
"y":{"field":"lo","type":"quantitative","scale":{"domain":[0.888,1.2733],"nice":false,"zero":false},"axis":{"orient":"right","values":[0.9,0.95,1,1.05,1.1,1.15,1.2,1.25],"format":".2f","title":null,"labelFont":"DejaVu Sans","labelFontSize":23,"labelColor":"#111","labelPadding":8,"tickSize":7,"tickColor":"#111","tickWidth":1.2,"domain":false,"labelOverlap":false}},
"y2":{"field":"hi"}}}
]}
]}
